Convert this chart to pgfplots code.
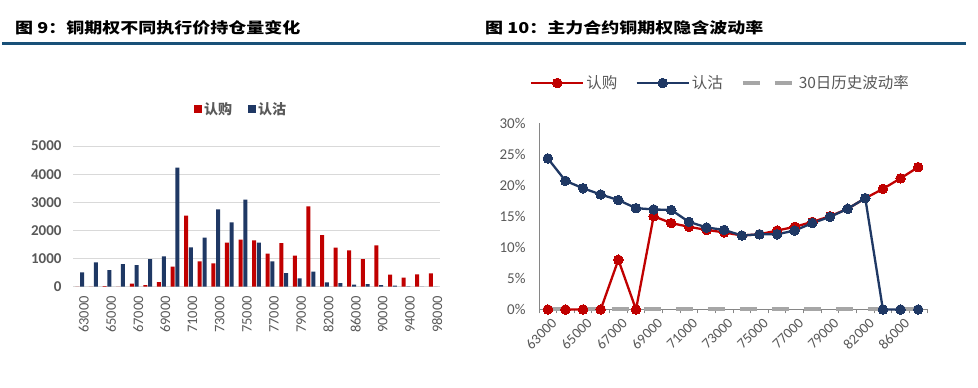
\documentclass[border=0pt]{standalone}
\usepackage{pgfplots}
\usepackage{pgfplotstable}
\pgfplotsset{compat=1.18}
\usepackage{fontspec}
\setmainfont{Carlito}
\newfontfamily\cjk{Noto Sans CJK SC}
\newfontfamily\cjkt{Noto Sans CJK SC}[FakeStretch=1.2]
\definecolor{cred}{RGB}{192,0,0}
\definecolor{cnavy}{RGB}{31,56,100}
\definecolor{cgray}{RGB}{166,166,166}
\definecolor{ctext}{RGB}{89,89,89}
\definecolor{cgrid}{RGB}{217,217,217}
\definecolor{crule}{RGB}{24,80,120}
\definecolor{caxis}{RGB}{134,134,134}

\pgfplotstableread{
i call put
0 0 510
1 0 865
2 20 590
3 0 805
4 107 770
5 60 983
6 166 1078
7 711 4230
8 2524 1398
9 900 1742
10 829 2749
11 1564 2287
12 1671 3092
13 1647 1570
14 1173 900
15 1552 486
16 1102 296
17 2855 533
18 1836 154
19 1386 130
20 1291 71
21 983 95
22 1469 59
23 427 36
24 320 8
25 438 0
26 474 0
}\oi

\pgfplotstableread{
i call put hv
0 0 24.3 0
1 0 20.7 0
2 0 19.5 0
3 0 18.5 0
4 8.0 17.6 0
5 0 16.3 0
6 15.0 16.1 0
7 13.9 16.0 0
8 13.3 14.1 0
9 12.8 13.2 0
10 12.4 12.8 0
11 11.9 11.9 0
12 12.1 12.1 0
13 12.7 12.1 0
14 13.3 12.7 0
15 14.1 13.9 0
16 15.0 14.9 0
17 16.2 16.2 0
18 17.9 17.9 0
19 19.4 0 0
20 21.1 0 0
21 22.9 0 0
}\iv

\begin{document}
\begin{tikzpicture}
\useasboundingbox (0pt,0pt) rectangle (978pt,388pt);
\fill[white] (0pt,0pt) rectangle (978pt,388pt);
\node[anchor=base west, inner sep=0pt, font=\cjkt\bfseries\fontsize{15}{18}\selectfont] at (15pt,354.8pt) {图 9：铜期权不同执行价持仓量变化};
\node[anchor=base west, inner sep=0pt, font=\cjkt\bfseries\fontsize{15}{18}\selectfont] at (485pt,354.8pt) {图 10：主力合约铜期权隐含波动率};
\draw[crule, line width=3pt] (2pt,344.5pt) -- (966pt,344.5pt);

\begin{axis}[
  at={(73pt,101.3pt)}, anchor=south west, scale only axis,
  width=367pt, height=140.7pt,
  xmin=-0.5, xmax=26.5, ymin=0, ymax=5000,
  ybar,
  axis line style={draw=none},
  major tick length=0pt,
  ymajorgrids, grid style={cgrid, line width=0.9pt},
  ytick={0,1000,2000,3000,4000,5000},
  yticklabels={0,1000,2000,3000,4000,5000},
  yticklabel style={font=\bfseries\fontsize{15}{18}\selectfont, text=ctext, xshift=-8pt},
  xtick={0,2,...,26},
  xticklabels={63000,65000,67000,69000,71000,73000,75000,77000,79000,82000,86000,90000,94000,98000},
  xticklabel style={rotate=90, anchor=east, font=\fontsize{14.5}{17}\selectfont, text=ctext, xshift=-6pt, yshift=-4pt},
  legend style={at={(0.458,1.263)}, anchor=center, draw=none, fill=none, legend columns=-1,
    font=\cjk\bfseries\fontsize{14}{17}\selectfont, nodes={text=ctext},
    /tikz/every even column/.append style={column sep=14pt}},
  legend image code/.code={\fill[#1] (0pt,-4pt) rectangle (8pt,4pt);},
]
\addplot[fill=cred, draw=none, bar width=4pt, bar shift=-2.4pt] table[x=i,y=call]{\oi};
\addlegendentry{认购}
\addplot[fill=cnavy, draw=none, bar width=4pt, bar shift=2.4pt] table[x=i,y=put]{\oi};
\addlegendentry{认沽}
\end{axis}

\begin{axis}[
  at={(539pt,78.5pt)}, anchor=south west, scale only axis,
  width=388pt, height=186.5pt,
  xmin=-0.5, xmax=21.5, ymin=0, ymax=30,
  clip=false,
  axis x line*=bottom, axis y line*=left,
  axis line style={caxis, line width=0.9pt, -},
  xtick={0,2,...,20},
  xticklabels={63000,65000,67000,69000,71000,73000,75000,77000,79000,82000,86000},
  minor xtick={-0.5,0.5,...,21.5},
  major tick length=0pt,
  minor tick length=4pt,
  tick align=outside,
  minor tick style={caxis, line width=0.9pt},
  ytick={0,5,10,15,20,25,30},
  yticklabels={0\%,5\%,10\%,15\%,20\%,25\%,30\%},
  yticklabel style={font=\fontsize{15}{18}\selectfont, text=ctext, xshift=-10pt},
  xticklabel style={rotate=45, anchor=north east, font=\fontsize{14.5}{17}\selectfont, text=ctext, yshift=-4pt},
  legend style={at={(0.468,1.2145)}, anchor=center, draw=none, fill=none, legend columns=-1,
    font=\cjk\fontsize{15.5}{18}\selectfont, nodes={text=ctext},
    /tikz/every even column/.append style={column sep=16pt}},
  legend image code/.code={\draw[mark repeat=2,mark phase=2,#1] plot coordinates {(0pt,0pt) (26pt,0pt) (52pt,0pt)};},
]
\addplot[cred, line width=2.3pt, mark=*, mark size=4.8pt, mark options={fill=cred, draw=cred, line width=0pt, solid}] table[x=i,y=call]{\iv};
\addlegendentry{认购}
\addplot[cnavy, line width=2.3pt, mark=*, mark size=4.8pt, mark options={fill=cnavy, draw=cnavy, line width=0pt, solid}] table[x=i,y=put]{\iv};
\addlegendentry{认沽}
\addplot[cgray, line width=4pt, dash pattern=on 17pt off 15pt, mark=none] table[x=i,y=hv]{\iv};
\addlegendentry{30日历史波动率}
\end{axis}
\end{tikzpicture}
\end{document}
